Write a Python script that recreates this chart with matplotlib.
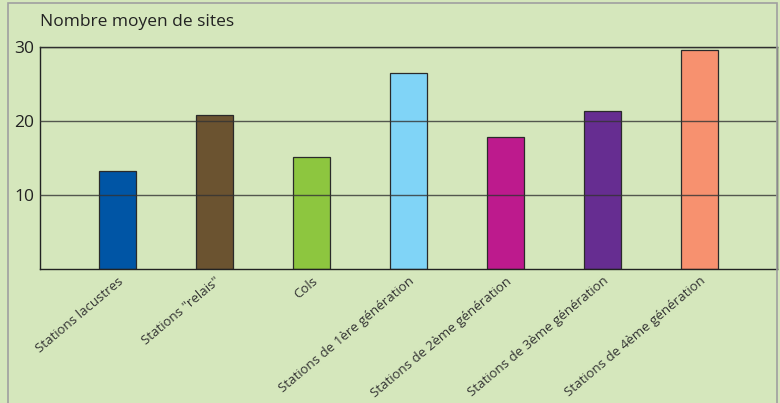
import matplotlib.pyplot as plt
from matplotlib.patches import Rectangle
import matplotlib.transforms as mtransforms

categories = ['Stations lacustres', 'Stations "relais"', 'Cols',
              'Stations de 1ère génération', 'Stations de 2ème génération',
              'Stations de 3ème génération', 'Stations de 4ème génération']
values = [13.3, 20.8, 15.1, 26.5, 17.9, 21.4, 29.6]
colors = ['#0055a5', '#6b5330', '#8dc63f', '#80d4f7', '#bd1a8d', '#662d91', '#f7916f']
yticks = [10, 20, 30]

bg = '#d5e7bc'
plt.rcParams['font.family'] = ['Open Sans', 'DejaVu Sans']

fig = plt.figure(figsize=(7.8, 4.03), dpi=100, facecolor=bg)
fig.patches.append(Rectangle((8 / 780, -0.01), 769 / 780, 1 - 3 / 403 + 0.01,
                             transform=fig.transFigure, fill=False,
                             edgecolor='#a0a0a0', linewidth=1.2))
ax = fig.add_axes([40 / 780, 134 / 403, 737 / 780, 222 / 403])
ax.set_facecolor(bg)

x = range(len(categories))
ax.bar(x, values, width=0.39, color=colors, edgecolor='#2a2a2a', linewidth=0.9, zorder=2)
for y in yticks:
    ax.axhline(y, color='#333333', linewidth=1.0, alpha=0.8, zorder=3)

ax.set_xlim(-0.8, 6.8)
ax.set_ylim(0, 30)
ax.set_yticks(yticks)
ax.set_yticklabels([str(v) for v in yticks], fontsize=12.5, color='#222222')
ax.set_xticks(list(x))
ax.set_xticklabels(categories, rotation=40, ha='right', rotation_mode='anchor',
                   fontsize=9.5, color='#333333')
# labels in the original end a little left of the bar centre
offset = mtransforms.ScaledTranslation(-9 / 100, 0, fig.dpi_scale_trans)
for lbl in ax.get_xticklabels():
    lbl.set_transform(lbl.get_transform() + offset)
ax.tick_params(length=0, pad=4)
ax.tick_params(axis='y', pad=4)
for s in ax.spines.values():
    s.set_color('#222222')
    s.set_linewidth(1.0)

fig.text(40 / 780, 1 - 22 / 403, 'Nombre moyen de sites', fontsize=12.5,
         color='#222222', va='center', ha='left')

fig.savefig('out.png', dpi=100, facecolor=bg)
